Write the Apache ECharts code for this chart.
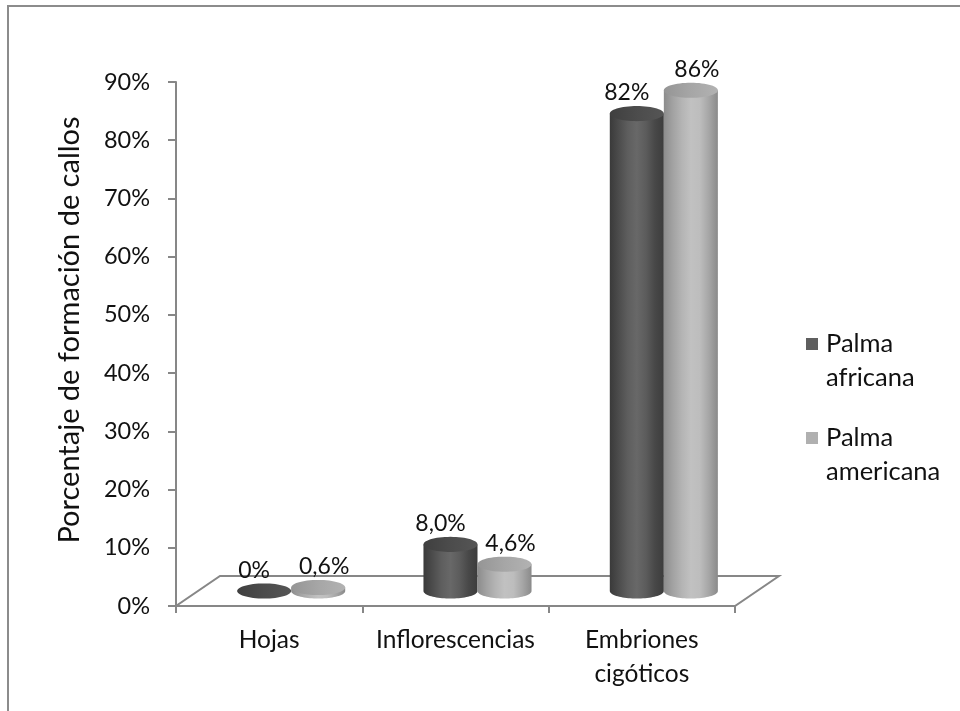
<!DOCTYPE html>
<html>
<head>
<meta charset="utf-8">
<title>Formación de callos</title>
<script src="https://cdn.jsdelivr.net/npm/echarts@6/dist/echarts.min.js"></script>
<style>
  html, body { margin: 0; padding: 0; background: #fff; }
  #chart { width: 960px; height: 711px; }
</style>
</head>
<body>
<div id="chart"></div>
<script>
// Explantes evaluados
const categories = ['Hojas', 'Inflorescencias', 'Embriones\ncigóticos'];
// Series (nombre de la especie)
const seriesNames = ['Palma africana', 'Palma americana'];
// Porcentaje de formación de callos (%)
const africana = [0, 8.0, 82];
const americana = [0.6, 4.6, 86];
// Decimales mostrados en cada etiqueta
const africanaDecimals = [0, 1, 0];
const americanaDecimals = [1, 1, 0];
// Eje vertical
const yMin = 0, yMax = 90, yStep = 10;

const FONT = 'Lato, "Liberation Sans", sans-serif';
const TEXT = '#111';
const AXIS = '#878787';

// Profundidad del suelo en perspectiva
const DEPTH_X = 44, DEPTH_Y = 30;

const palettes = [
  {
    body: ['#3a3a3a', '#4c4c4c', '#5e5e5e', '#686868', '#5c5c5c', '#484848', '#3c3c3c'],
    top: ['#3f3f3f', '#4c4c4c', '#555555'],
    legend: '#5f5f5f',
    labelShift: -10
  },
  {
    body: ['#8c8c8c', '#a2a2a2', '#b4b4b4', '#c1c1c1', '#bdbdbd', '#a6a6a6', '#8a8a8a'],
    top: ['#959595', '#a6a6a6', '#b2b2b2'],
    legend: '#b0b0b0',
    labelShift: 6
  }
];

function fmt(v, d) {
  return v.toFixed(d).replace('.', ',') + '%';
}

function hGradient(colors) {
  return {
    type: 'linear', x: 0, y: 0, x2: 1, y2: 0,
    colorStops: colors.map((c, k) => ({ offset: k / (colors.length - 1), color: c }))
  };
}

function ellipsePoints(cx, cy, rx, ry, a0, a1, n) {
  const pts = [];
  for (let k = 0; k <= n; k++) {
    const a = a0 + (a1 - a0) * k / n;
    pts.push([cx + rx * Math.cos(a), cy + ry * Math.sin(a)]);
  }
  return pts;
}

function cylinderRenderer(seriesIdx, decimals) {
  const pal = palettes[seriesIdx];
  const side = seriesIdx === 0 ? -1 : 1;
  return function (params, api) {
    const i = api.value(0);
    const v = api.value(1);
    const base = api.coord([i, 0]);
    const top = api.coord([i, v]);
    const band = api.size([1, 0])[0];
    const rx = band * 0.145;
    const ry = rx * 0.28;
    const cx = base[0] + DEPTH_X / 2 + side * rx;
    const by = base[1] - DEPTH_Y / 2;
    const ty = top[1] - DEPTH_Y / 2;
    const children = [];
    if (by - ty > 0.3) {
      // cuerpo: laterales + semielipse inferior
      const pts = [[cx - rx, ty]].concat(
        ellipsePoints(cx, by, rx, ry, Math.PI, 0, 40)
      ).concat([[cx + rx, ty]]);
      children.push({
        type: 'polygon',
        shape: { points: pts },
        style: { fill: hGradient(pal.body), stroke: null }
      });
    }
    // tapa superior
    children.push({
      type: 'polygon',
      shape: { points: ellipsePoints(cx, ty, rx, ry, 0, Math.PI * 2, 60) },
      style: { fill: hGradient(pal.top), stroke: null }
    });
    children.push({
      type: 'text',
      style: {
        text: fmt(v, decimals[params.dataIndex]),
        x: cx + pal.labelShift,
        y: ty - ry - 13,
        align: 'center',
        verticalAlign: 'middle',
        fontFamily: FONT,
        fontSize: 23,
        fill: TEXT
      }
    });
    return { type: 'group', children: children };
  };
}

// Suelo en perspectiva bajo los cilindros
function floorRenderer(params, api) {
  const cs = params.coordSys;
  const x0 = cs.x, x1 = cs.x + cs.width, y0 = cs.y + cs.height;
  return {
    type: 'polygon',
    shape: {
      points: [[x0, y0], [x1, y0], [x1 + DEPTH_X, y0 - DEPTH_Y], [x0 + DEPTH_X, y0 - DEPTH_Y]]
    },
    style: { fill: '#fff', stroke: AXIS, lineWidth: 2 }
  };
}

const chart = echarts.init(document.getElementById('chart'), null, { renderer: 'canvas' });

const legendItems = [];
seriesNames.forEach((name, k) => {
  const y0 = 344 + k * 94;
  const words = name.split(' ');
  legendItems.push({
    type: 'rect',
    shape: { x: 806, y: y0 - 6, width: 12, height: 12 },
    style: { fill: palettes[k].legend }
  });
  legendItems.push({
    type: 'text',
    style: {
      text: words[0] + '\n' + words.slice(1).join(' '),
      x: 826, y: y0 - 17,
      fontFamily: FONT, fontSize: 25.5, lineHeight: 34,
      fill: TEXT, verticalAlign: 'top', align: 'left'
    }
  });
});

chart.setOption({
  animation: false,
  backgroundColor: '#fff',
  grid: { left: 176, right: 225, top: 82, bottom: 105 },
  xAxis: {
    type: 'category',
    data: categories,
    boundaryGap: true,
    axisLine: { show: true, lineStyle: { color: AXIS, width: 2 } },
    axisTick: { show: true, length: 7, lineStyle: { color: AXIS, width: 2 } },
    axisLabel: {
      margin: 17, fontFamily: FONT, fontSize: 24.5, color: TEXT,
      lineHeight: 34, interval: 0
    },
    z: 1
  },
  yAxis: {
    type: 'value',
    min: yMin, max: yMax, interval: yStep,
    axisLine: { show: true, lineStyle: { color: AXIS, width: 2 } },
    axisTick: { show: true, length: 8, lineStyle: { color: AXIS, width: 2 } },
    axisLabel: {
      margin: 26, fontFamily: FONT, fontSize: 23.5, color: TEXT,
      formatter: '{value}%'
    },
    splitLine: { show: false }
  },
  graphic: [
    {
      type: 'rect', z: -10, silent: true,
      shape: { x: 8, y: 6, width: 1000, height: 1000 },
      style: { fill: 'none', stroke: '#8c8c8c', lineWidth: 2 }
    },
    {
      type: 'text',
      x: 70, y: 330, rotation: Math.PI / 2,
      style: {
        text: 'Porcentaje de formación de callos',
        fontFamily: FONT, fontSize: 29, fill: TEXT,
        align: 'center', verticalAlign: 'middle'
      }
    }
  ].concat(legendItems),
  series: [
    {
      type: 'custom', name: 'suelo', silent: true, z: 1,
      renderItem: floorRenderer,
      data: [[0, 0]]
    },
    {
      type: 'custom', name: seriesNames[0], z: 3,
      renderItem: cylinderRenderer(0, africanaDecimals),
      data: africana.map((v, i) => [i, v])
    },
    {
      type: 'custom', name: seriesNames[1], z: 3,
      renderItem: cylinderRenderer(1, americanaDecimals),
      data: americana.map((v, i) => [i, v])
    }
  ]
});
</script>
</body>
</html>
